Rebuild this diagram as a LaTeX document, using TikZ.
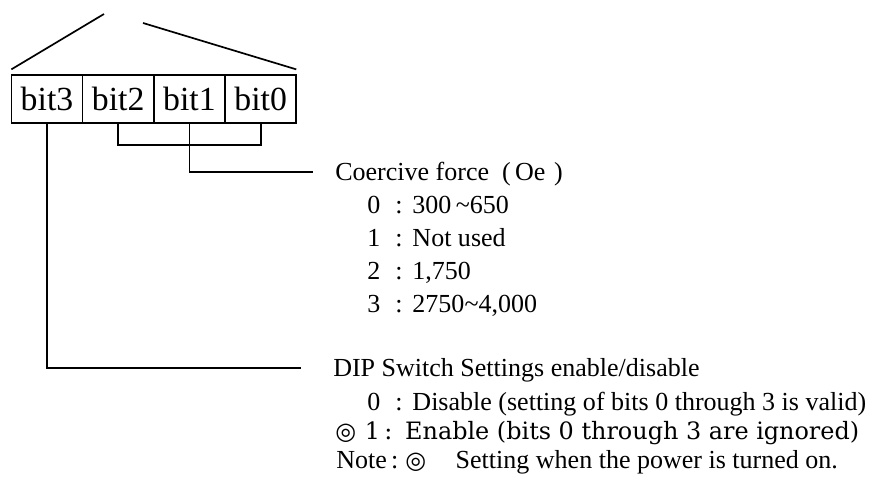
\documentclass[tikz,border=0pt]{standalone}
\usepackage{fontspec}
\setmainfont{Liberation Serif}
\newfontfamily\symfont{DejaVu Sans}
\newfontfamily\wideserif{DejaVu Serif}
\usetikzlibrary{positioning}

% number, colon and value of one list line
\newcommand{\keyval}[2]{\makebox[20pt][l]{#1}:\hspace{7pt}#2}
% the small double circle mark
\newcommand{\powermark}{{\symfont\fontsize{17}{17}\selectfont ◎}}

\begin{document}
\begin{tikzpicture}[x=0.025cm, y=-0.025cm,
    bitbox/.style={draw, line width=1.2pt, minimum width=1.78cm, minimum height=1.2cm, inner sep=0pt, outer sep=0pt, font=\fontsize{24}{24}\selectfont},
    head/.style={anchor=west, inner sep=0pt, text height=12.5pt, text depth=0pt, font=\fontsize{18.5}{18.5}\selectfont},
    entry/.style={head},
    wire/.style={line width=1.2pt}
]
\useasboundingbox (0,0) rectangle (883,484);

% the four bits
\node[bitbox] (bit3) at (47,99) {bit3};
\node[bitbox, right=0pt of bit3] (bit2) {bit2};
\node[bitbox, right=0pt of bit2] (bit1) {bit1};
\node[bitbox, right=0pt of bit1] (bit0) {bit0};

% open roof above the box
\coordinate (apexl) at (104,14);
\coordinate (apexr) at (143,23);
\draw[wire] ([yshift=4pt]bit3.north west) -- (apexl);
\draw[wire] (apexr) -- ([yshift=4pt]bit0.north east);

% coercive force
\node[head] (coer) at (335,172) {Coercive force\ \ (\,Oe\,\,)};
\node[entry] (c0) at (367,205) {\keyval{0}{300\,\textasciitilde650}};
\node[entry] (c1) at (367,238) {\keyval{1}{Not used}};
\node[entry] (c2) at (367,271) {\keyval{2}{1,750}};
\node[entry] (c3) at (367,304) {\keyval{3}{2750\textasciitilde4,000}};

% dip switch
\node[head] (dip) at (333,368) {DIP Switch Settings enable/disable};
\node[entry] (d0) at (367,402) {\keyval{0}{Disable (setting of bits 0 through 3 is valid)}};
\node[entry, font=\wideserif\fontsize{17}{17}\selectfont] (d1) at (335,431) {\makebox[21pt][l]{\powermark}\makebox[14pt][l]{1}:\hspace{9pt}Enable (bits 0 through 3 are ignored)};
\node[entry] (note) at (336,460) {Note\hspace{3pt}:\hspace{5pt}\powermark\hspace{21pt}Setting when the power is turned on.};

% connectors
\draw[wire] (bit2.south) -- ++(0,22) -| (bit0.south);
\draw[wire] (bit1.south) |- ([xshift=-16pt]coer.west);
\draw[wire] (bit3.south) |- ([xshift=-23pt]dip.west);

\end{tikzpicture}
\end{document}
